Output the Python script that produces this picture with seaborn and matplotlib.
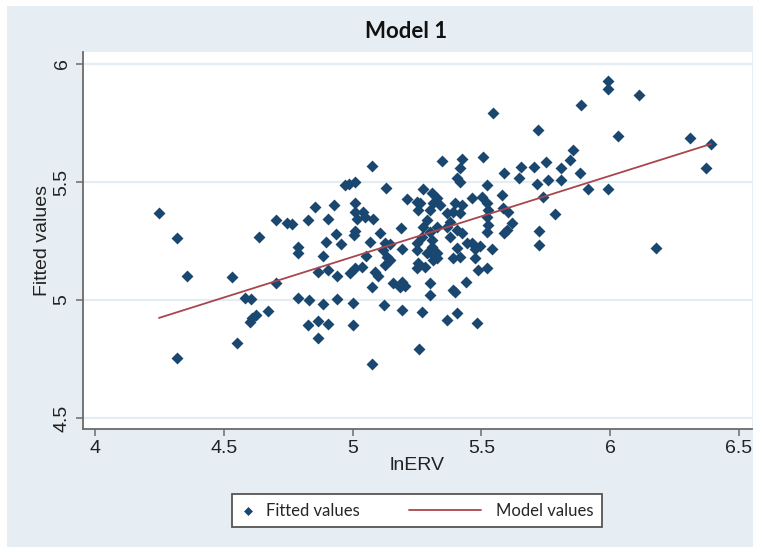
import matplotlib
matplotlib.use("Agg")
import matplotlib.pyplot as plt
import seaborn as sns
import pandas as pd
from matplotlib.patches import Rectangle
from matplotlib.lines import Line2D
from matplotlib.legend_handler import HandlerLine2D, HandlerPathCollection

# ---------------- data ----------------
fitted_x = [
    4.248, 4.318, 4.357, 4.318, 4.532, 4.551, 4.582, 4.606, 4.609, 4.625,
    4.602, 4.637, 4.672, 4.703, 4.703, 4.745, 4.765, 4.788, 4.788, 4.788,
    4.827, 4.854, 4.831, 4.827, 4.866, 4.905, 4.866, 4.866, 4.905, 4.885,
    4.885, 4.897, 4.905, 4.928, 4.936, 4.939, 4.939, 4.955, 4.971, 4.986,
    5.009, 5.009, 5.009, 5.040, 5.017, 5.009, 5.005, 5.002, 5.002, 4.990,
    5.009, 5.036, 5.052, 5.048, 5.075, 5.079, 5.068, 5.075, 5.075, 5.087,
    5.099, 5.106, 5.122, 5.126, 5.145, 5.134, 5.145, 5.126, 5.130, 5.157,
    5.192, 5.203, 5.184, 5.188, 5.192, 5.192, 5.211, 5.250, 5.250, 5.250,
    5.254, 5.250, 5.258, 5.269, 5.273, 5.262, 5.308, 5.328, 5.312, 5.339,
    5.300, 5.289, 5.273, 5.300, 5.328, 5.269, 5.308, 5.308, 5.328, 5.312,
    5.281, 5.254, 5.300, 5.300, 5.300, 5.347, 5.366, 5.378, 5.366, 5.378,
    5.366, 5.405, 5.417, 5.417, 5.425, 5.398, 5.425, 5.390, 5.417, 5.405,
    5.425, 5.405, 5.390, 5.417, 5.390, 5.398, 5.405, 5.440, 5.464, 5.444,
    5.464, 5.495, 5.475, 5.475, 5.487, 5.522, 5.483, 5.506, 5.522, 5.502,
    5.522, 5.526, 5.522, 5.526, 5.522, 5.541, 5.545, 5.580, 5.584, 5.603,
    5.588, 5.588, 5.619, 5.599, 5.654, 5.646, 5.704, 5.716, 5.720, 5.724,
    5.724, 5.739, 5.751, 5.759, 5.786, 5.809, 5.809, 5.844, 5.856, 5.883,
    5.887, 5.914, 5.991, 5.991, 5.991, 6.030, 6.112, 6.178, 6.310, 6.391,
    6.372, 5.118, 5.289, 5.328,
]
fitted_y = [
    5.369, 5.263, 5.102, 4.754, 5.097, 4.818, 5.009, 5.004, 4.924, 4.937,
    4.907, 5.267, 4.953, 5.072, 5.339, 5.326, 5.322, 5.225, 5.199, 5.009,
    5.339, 5.394, 5.000, 4.894, 4.911, 4.898, 4.839, 5.119, 5.127, 5.186,
    4.983, 5.246, 5.343, 5.403, 5.280, 5.102, 5.004, 5.237, 5.487, 5.492,
    5.500, 5.411, 5.373, 5.373, 5.343, 5.292, 5.275, 4.987, 4.894, 5.114,
    5.136, 5.140, 5.186, 5.352, 5.568, 5.343, 5.246, 5.055, 4.729, 5.119,
    5.102, 5.284, 4.979, 5.242, 5.237, 5.182, 5.170, 5.148, 5.475, 5.072,
    5.076, 5.059, 5.055, 5.305, 5.216, 4.958, 5.428, 5.242, 5.212, 5.136,
    5.381, 5.415, 4.792, 4.949, 5.470, 5.411, 5.453, 5.432, 5.411, 5.403,
    5.381, 5.339, 5.309, 5.288, 5.309, 5.267, 5.254, 5.225, 5.199, 5.170,
    5.140, 5.157, 5.203, 5.072, 5.021, 5.589, 5.369, 5.331, 5.309, 5.267,
    4.915, 5.517, 5.500, 5.559, 5.597, 5.411, 5.403, 5.373, 5.369, 5.297,
    5.284, 5.220, 5.178, 5.182, 5.042, 5.034, 4.945, 5.076, 5.432, 5.242,
    5.242, 5.229, 5.216, 5.178, 5.127, 5.136, 4.903, 5.606, 5.487, 5.436,
    5.411, 5.381, 5.352, 5.318, 5.288, 5.216, 5.792, 5.445, 5.390, 5.373,
    5.538, 5.284, 5.326, 5.297, 5.564, 5.517, 5.564, 5.492, 5.720, 5.292,
    5.233, 5.436, 5.585, 5.509, 5.364, 5.559, 5.509, 5.593, 5.636, 5.538,
    5.826, 5.470, 5.928, 5.894, 5.470, 5.695, 5.869, 5.220, 5.686, 5.661,
    5.559, 5.212, 5.199, 5.178,
]
model_x = [4.248, 6.391]
model_y = [4.924, 5.661]

x_ticks = [4, 4.5, 5, 5.5, 6, 6.5]
x_tick_labels = ["4", "4.5", "5", "5.5", "6", "6.5"]
y_ticks = [4.5, 5, 5.5, 6]
y_tick_labels = ["4.5", "5", "5.5", "6"]

title = "Model 1"
x_label = "lnERV"
y_label = "Fitted values"
fitted_label = "Fitted values"
model_label = "Model values"

# ---------------- style ----------------
sns.set_theme(style="white")
plt.rcParams["font.family"] = ["Liberation Sans", "DejaVu Sans"]

NAVY = "#1a476f"
MAROON = "#a8464d"
PANEL = "#e7eef3"
GRID = "#e6edf2"
AXIS = "#6b6b6b"

W, H = 762, 552
fig = plt.figure(figsize=(W / 100, H / 100), dpi=100, facecolor="white")
fig.patches.append(Rectangle((7 / W, 1 - 547 / H), (753 - 7) / W, (547 - 6) / H,
                             transform=fig.transFigure, facecolor=PANEL,
                             edgecolor="none", zorder=-10))

ax = fig.add_axes([83 / W, 1 - 429 / H, (752 - 83) / W, (429 - 52) / H])
ax.set_facecolor("white")

fitted = pd.DataFrame({"x": fitted_x, "y": fitted_y})
model = pd.DataFrame({"x": model_x, "y": model_y})

sns.scatterplot(data=fitted, x="x", y="y", ax=ax, marker="D", s=37,
                color=NAVY, linewidth=0, label=fitted_label, zorder=3)
sns.lineplot(data=model, x="x", y="y", ax=ax, color=MAROON, linewidth=1.3,
             label=model_label, zorder=4, estimator=None, sort=False)

ax.set_xlim(3.953, 6.5505)
ax.set_ylim(4.4534, 6.0508)
ax.set_xticks(x_ticks)
ax.set_xticklabels(x_tick_labels)
ax.set_yticks(y_ticks)
ax.set_yticklabels(y_tick_labels, rotation=90, va="center")

for yv in y_ticks:
    ax.axhline(yv, color=GRID, linewidth=1.6, zorder=0)

for side in ("top", "right"):
    ax.spines[side].set_visible(False)
for side in ("left", "bottom"):
    ax.spines[side].set_color(AXIS)
    ax.spines[side].set_linewidth(1.3)

ax.tick_params(axis="both", which="major", direction="out", length=5,
               width=1.1, color=AXIS, labelsize=14, labelcolor="#222222",
               left=True, bottom=True)
ax.tick_params(axis="y", pad=4)
ax.tick_params(axis="x", pad=3)

ax.set_xlabel(x_label, fontsize=14, color="#222222", labelpad=0)
ax.set_ylabel(y_label, fontsize=14, color="#222222", labelpad=2)

fig.text(406.5 / W, 1 - 31 / H, title, ha="center", va="center",
         fontsize=16, fontweight="bold", family=["Lato", "DejaVu Sans"],
         color="#111111")


# ---------------- legend ----------------
class LeftExtendedLine(HandlerLine2D):
    def create_artists(self, legend, orig_handle, xdescent, ydescent,
                       width, height, fontsize, trans):
        y = height / 2 - ydescent
        line = Line2D([-xdescent - 44.0, -xdescent + width - 4.5], [y, y])
        self.update_prop(line, orig_handle, legend)
        line.set_transform(trans)
        return [line]


handles, labels = ax.get_legend_handles_labels()
if ax.legend_ is not None:
    ax.legend_.remove()
leg = fig.legend(handles, labels, loc="center",
                 bbox_to_anchor=(417 / W, 1 - 510.5 / H), ncol=2,
                 frameon=True, fancybox=False, shadow=False,
                 prop={"family": ["Lato", "DejaVu Sans"], "size": 12},
                 handlelength=1.0, handletextpad=0.58, columnspacing=6.6,
                 borderpad=0.5, markerscale=0.75,
                 handler_map={Line2D: LeftExtendedLine(),
                              type(handles[0]): HandlerPathCollection(numpoints=1)})
frame = leg.get_frame()
frame.set_facecolor("white")
frame.set_edgecolor("#555555")
frame.set_linewidth(1.3)
frame.set_alpha(1)

fig.savefig("out.png", dpi=100, facecolor="white")
